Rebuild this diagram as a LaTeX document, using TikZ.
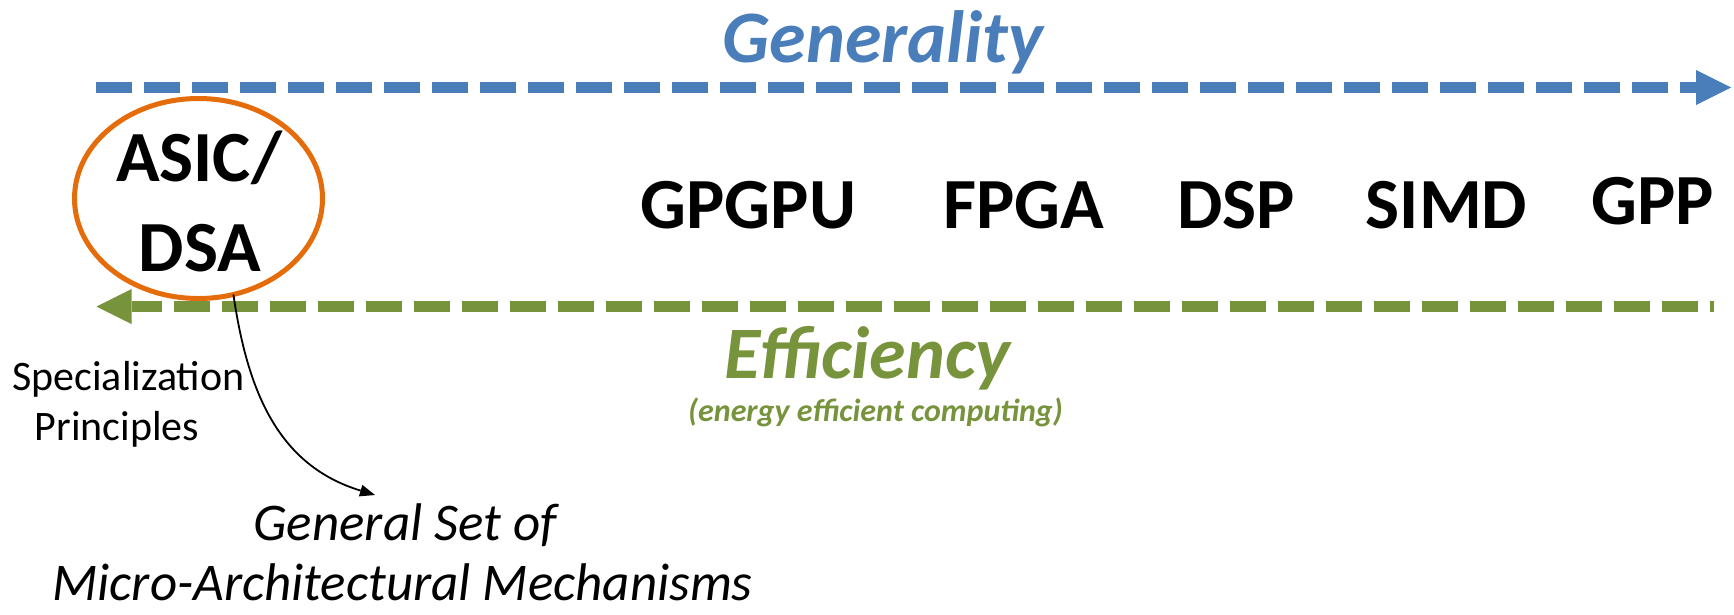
\documentclass[tikz,border=0pt]{standalone}
\usepackage{fontspec}
\setmainfont{Carlito}
\usetikzlibrary{arrows.meta,shapes.geometric}
\definecolor{genblue}{HTML}{4A7EBB}
\definecolor{effgreen}{HTML}{77933C}
\definecolor{asicorange}{HTML}{E46C0A}
\tikzset{
  axisline/.style={line width=11pt, dash pattern=on 36pt off 12pt},
  bigtip/.style={-{Triangle[length=35pt,width=35pt,line width=0pt]}},
  title/.style={font=\fontsize{74}{90}\selectfont\bfseries\itshape, inner sep=0pt, anchor=base},
  subtitle/.style={font=\fontsize{32}{39}\selectfont\bfseries\itshape, text=effgreen, inner sep=0pt, anchor=base},
  proc/.style={font=\fontsize{72}{88}\selectfont\bfseries, inner sep=0pt, anchor=base},
  note/.style={font=\fontsize{42}{51}\selectfont, inner sep=0pt, anchor=base},
  mech/.style={font=\fontsize{53}{65}\selectfont\itshape, inner sep=0pt, anchor=base},
  asicring/.style={draw=asicorange, line width=5pt, ellipse, minimum width=248pt, minimum height=200pt, inner sep=0pt, outer sep=0pt},
  curvearrow/.style={line width=1.8pt, -{Triangle[length=15pt,width=12pt,line width=0pt]}}
}
\begin{document}
\begin{tikzpicture}[x=1pt,y=-1pt]
\useasboundingbox (0,0) rectangle (1734,614);
% Generality axis
\coordinate (gstart) at (96,87.5);
\coordinate (gend) at (1731,87.5);
\draw[axisline, bigtip, genblue] (gstart) -- (gend);
% Efficiency axis
\coordinate (estart) at (1714,306.5);
\coordinate (eend) at (96.5,306.5);
\draw[axisline, bigtip, effgreen, dash phase=32pt] (estart) -- (eend);
% titles
\node[title, text=genblue] (generality) at (883,62) {Generality};
\node[title, text=effgreen] (efficiency) at (867.5,378) {Efficiency};
\node[subtitle] (energy) at (875.5,421) {(energy efficient computing)};
% processors
\node[proc] (gpgpu) at (748.5,228) {GPGPU};
\node[proc] (fpga) at (1023.5,228) {FPGA};
\node[proc] (dsp) at (1236,228) {DSP};
\node[proc] (simd) at (1446.5,228) {SIMD};
\node[proc] (gpp) at (1653,224) {GPP};
% ASIC/DSA
\node[asicring] (asic) at (198.5,198.5) {};
\node[proc] (asictop) at (199,181.5) {ASIC/};
\node[proc] (asicbot) at (200,271.5) {DSA};
% specialization
\node[note] (spec1) at (128.5,390) {Specialization};
\node[note] (spec2) at (117,440) {Principles};
\coordinate (mechtip) at (375,495);
\draw[curvearrow] (asic.-70) .. controls (248,395) and (280,466) .. (mechtip);
\node[mech] (mech1) at (405,540) {General Set of};
\node[mech] (mech2) at (402.5,600) {Micro-Architectural Mechanisms};
\end{tikzpicture}
\end{document}
